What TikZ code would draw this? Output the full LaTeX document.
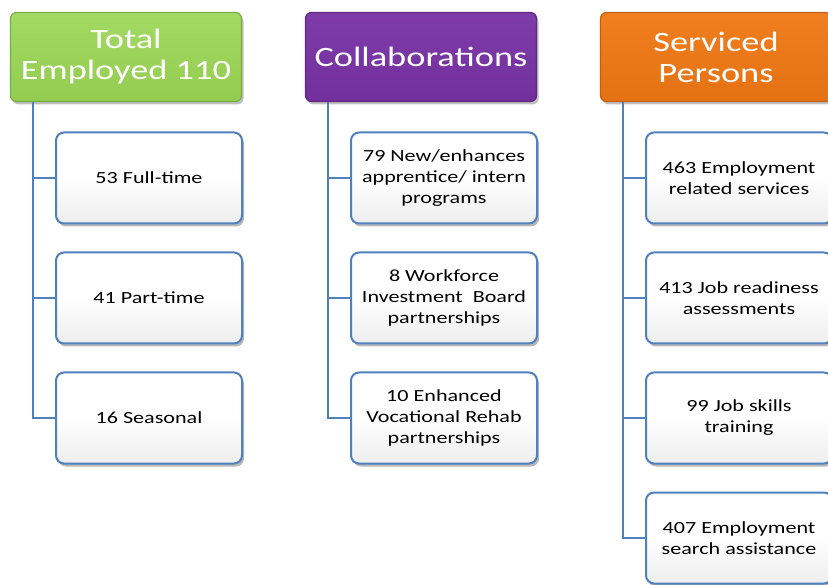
\documentclass[tikz,border=0pt]{standalone}
\usepackage{fontspec}
\setmainfont{Carlito}[FakeStretch=1.3]
\usetikzlibrary{shadows}

\definecolor{linkblue}{RGB}{79,129,189}
\definecolor{hdgreen}{RGB}{155,215,85}
\definecolor{hdpurple}{RGB}{120,50,165}
\definecolor{hdorange}{RGB}{240,120,20}

\begin{document}
\begin{tikzpicture}[x=1pt,y=1pt,
    head/.style={rounded corners=6pt, minimum width=231pt, minimum height=89pt,
      text=white, align=center, font=\fontsize{28}{31}\selectfont, line width=1.2pt,
      drop shadow={shadow xshift=2pt, shadow yshift=-3pt, fill=black!50}},
    item/.style={rounded corners=8pt, minimum width=186pt, minimum height=91pt,
      draw=linkblue, line width=2pt, top color=white, bottom color=black!7,
      middle color=white, align=center, font=\fontsize{17}{21}\selectfont,
      drop shadow={shadow xshift=2pt, shadow yshift=-3pt, fill=black!55}},
    link/.style={draw=linkblue, line width=2pt}]
    \useasboundingbox (0,0) rectangle (828,-585);
    \clip (0,0) rectangle (828,-585);

    \node[head, top color=hdgreen!92!white, bottom color=hdgreen!95!black, draw=hdgreen!80!black] (tot) at (126,-57) {Total\\Employed 110};
    \node[item] (ft) at (149,-178) {53 Full-time};
    \node[item] (pt) at (149,-298) {41 Part-time};
    \node[item] (se) at (149,-418) {16 Seasonal};

    \node[head, top color=hdpurple!95!white, bottom color=hdpurple!95!black, draw=hdpurple!80!black] (col) at (421,-57) {Collaborations};
    \node[item] (app) at (444,-178) {79 New/enhances\\apprentice/ intern\\programs};
    \node[item] (wib) at (444,-298) {8 Workforce\\Investment\ \ Board\\partnerships};
    \node[item] (voc) at (444,-418) {10 Enhanced\\Vocational Rehab\\partnerships};

    \node[head, top color=hdorange!95!white, bottom color=hdorange!95!black, draw=hdorange!80!black] (srv) at (716,-57) {Serviced\\Persons};
    \node[item] (emp) at (739,-178) {463 Employment\\related services};
    \node[item] (jra) at (739,-298) {413 Job readiness\\assessments};
    \node[item] (jst) at (739,-418) {99 Job skills\\training};
    \node[item] (esa) at (739,-538) {407 Employment\\search assistance};

    \draw[link] ([xshift=-22pt]tot.south -| ft.west) |- (se.west);
    \draw[link] ([xshift=-22pt]ft.west) -- (ft.west);
    \draw[link] ([xshift=-22pt]pt.west) -- (pt.west);

    \draw[link] ([xshift=-22pt]col.south -| app.west) |- (voc.west);
    \draw[link] ([xshift=-22pt]app.west) -- (app.west);
    \draw[link] ([xshift=-22pt]wib.west) -- (wib.west);

    \draw[link] ([xshift=-22pt]srv.south -| emp.west) |- (esa.west);
    \draw[link] ([xshift=-22pt]emp.west) -- (emp.west);
    \draw[link] ([xshift=-22pt]jra.west) -- (jra.west);
    \draw[link] ([xshift=-22pt]jst.west) -- (jst.west);
  \end{tikzpicture}
\end{document}
